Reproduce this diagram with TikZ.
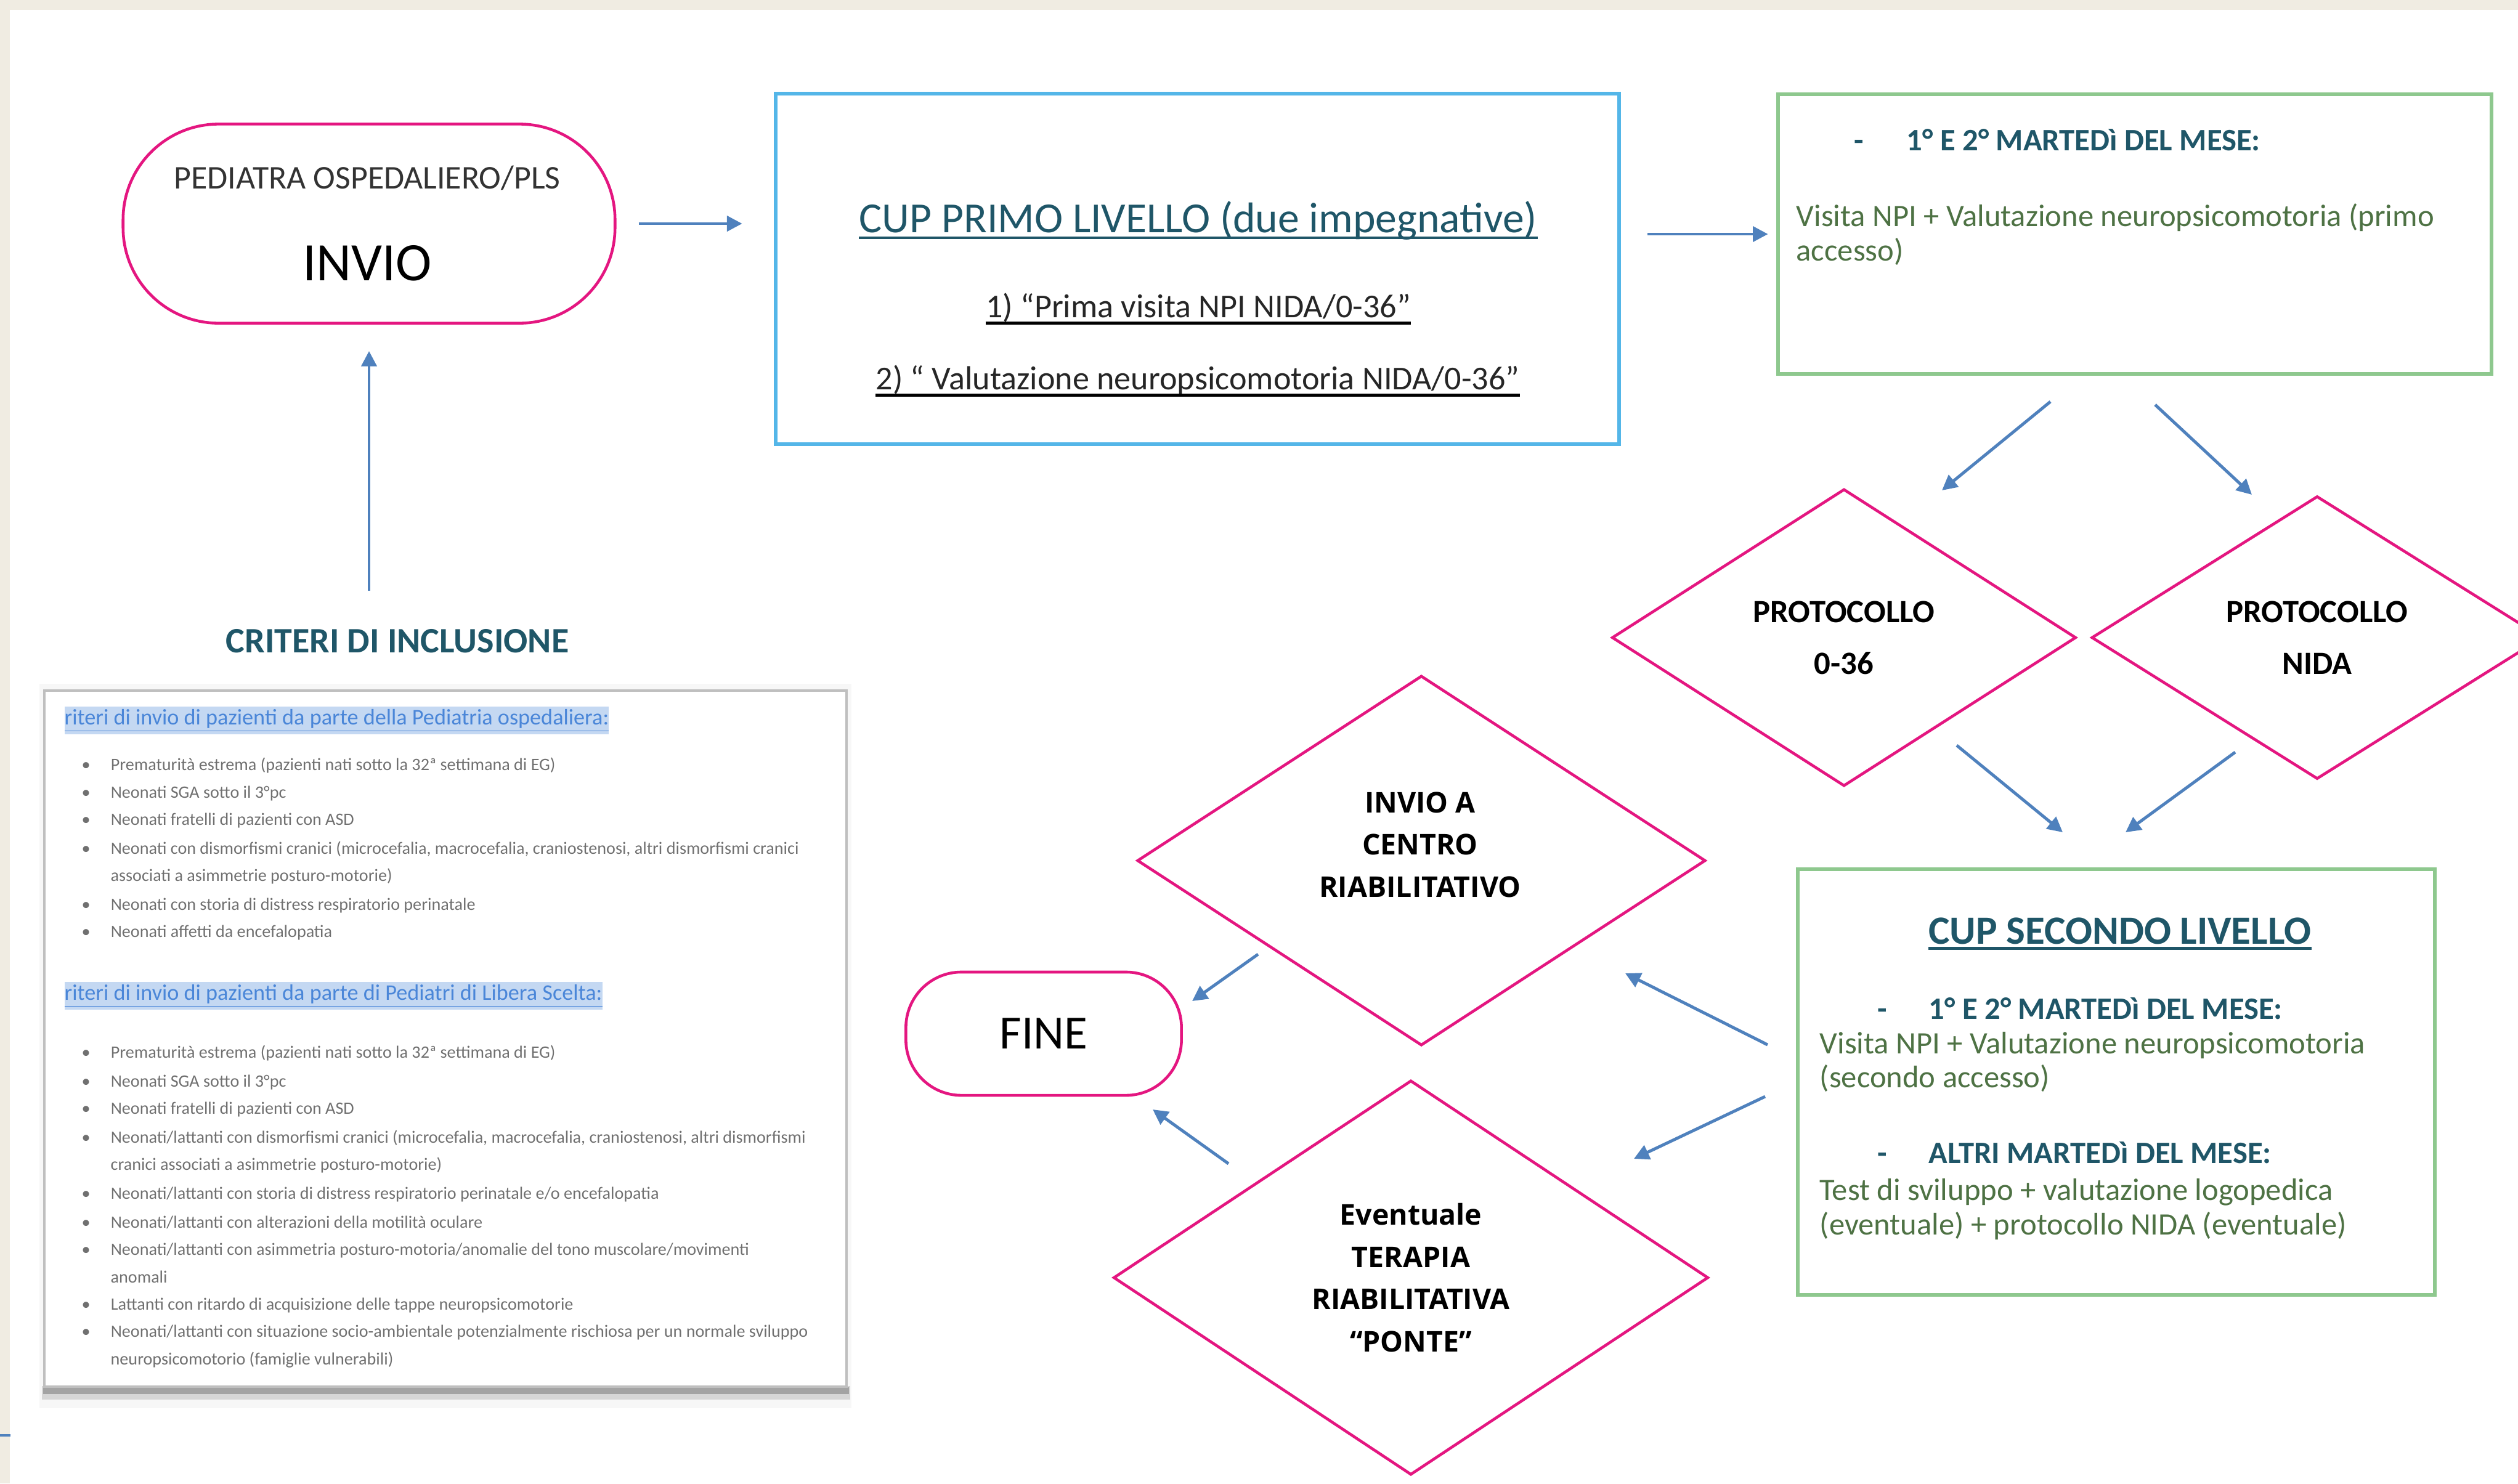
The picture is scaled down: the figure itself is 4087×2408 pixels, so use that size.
\documentclass[tikz,border=0pt]{standalone}
\usepackage{fontspec}
\setmainfont{Carlito}
\newfontfamily\diafont{Open Sans}
\usetikzlibrary{shapes.geometric}
\usetikzlibrary{arrows.meta}

\definecolor{pagebeige}{RGB}{240,236,226}
\definecolor{npipink}{RGB}{228,22,128}
\definecolor{arrowblue}{RGB}{79,129,189}
\definecolor{cupblue}{RGB}{84,182,232}
\definecolor{boxgreen}{RGB}{142,200,142}
\definecolor{headteal}{RGB}{31,86,104}
\definecolor{bodygreen}{RGB}{78,114,68}
\definecolor{linkblue}{RGB}{74,134,216}
\definecolor{markblue}{RGB}{196,216,242}
\definecolor{critgray}{RGB}{112,112,112}

\newcommand{\critem}{\makebox[13.4pt][l]{\textbullet}}

\begin{document}
\begin{tikzpicture}[x=0.01cm, y=-0.01cm,
  every node/.style={inner sep=0pt},
  endcap/.style={draw=npipink, line width=1.3pt, rounded corners=#1},
  dia/.style={shape=diamond, draw=npipink, line width=1.3pt, aspect=1.5},
  protext/.style={align=center, font=\fontsize{15}{23.9}\selectfont\bfseries},
  diatext/.style={align=center, font=\diafont\bfseries\fontsize{13.2}{19.5}\selectfont},
  cupbox/.style={draw=cupblue, line width=1.7pt},
  greenbox/.style={draw=boxgreen, line width=1.7pt},
  flow/.style={draw=arrowblue, line width=1.4pt, -{Triangle[length=7pt,width=7pt]}},
  head/.style={anchor=base west, text=headteal, font=\fontsize{14.4}{17}\selectfont\bfseries},
  body/.style={anchor=base west, text=bodygreen, font=\fontsize{14.4}{17}\selectfont},
  crit/.style={anchor=base west, text=critgray, font=\fontsize{8}{10}\selectfont},
  crithead/.style={anchor=base west, text=linkblue, fill=markblue, inner ysep=1pt, font=\fontsize{10.3}{12}\selectfont}]
\useasboundingbox (0,0) rectangle (4087,2408);
\fill[white] (0,0) rectangle (4087,2408);
\fill[pagebeige] (0,0) rectangle (4087,16);
\fill[pagebeige] (0,0) rectangle (16,2408);
\draw[arrowblue, line width=1pt] (0,2330) -- (17,2330);

% start: pediatra
\node[endcap=1.55cm, minimum width=7.98cm, minimum height=3.23cm] (ped) at (599,363) {};
\node[anchor=base, text=black!80, font=\fontsize{15.3}{18}\selectfont] (ped-who) at (596,306) {PEDIATRA OSPEDALIERO/PLS};
\node[anchor=base, font=\fontsize{25}{30}\selectfont] (ped-invio) at (596,455) {INVIO};

% cup primo livello
\node[cupbox, minimum width=13.69cm, minimum height=5.69cm] (cup1) at (1943.5,436.5) {};
\node[anchor=base, text=headteal, font=\fontsize{19.8}{23}\selectfont] (cup1-title) at (1945,377) {CUP PRIMO LIVELLO (due impegnative)};
\draw[headteal, line width=1.2pt] ([yshift=-2.6pt]cup1-title.base west) -- ([yshift=-2.6pt]cup1-title.base east);
\node[anchor=base, text=black!85, font=\fontsize{15.4}{18}\selectfont] (cup1-first) at (1945,515) {1) “Prima visita NPI NIDA/0-36”};
\draw[black, line width=1.4pt] ([yshift=-2.8pt]cup1-first.base west) -- ([yshift=-2.8pt]cup1-first.base east);
\node[anchor=base, text=black!85, font=\fontsize{15.4}{18}\selectfont] (cup1-second) at (1944,632) {2) “ Valutazione neuropsicomotoria NIDA/0-36”};
\draw[black, line width=1.4pt] ([yshift=-2.8pt]cup1-second.base west) -- ([yshift=-2.8pt]cup1-second.base east);

% first visit
\node[greenbox, minimum width=11.58cm, minimum height=4.54cm] (visit1) at (3465,380) {};
\node[head] (visit1-dash) at (3009,244) {-};
\node[head] (visit1-day) at (3094,244) {1° E 2° MARTEDì DEL MESE:};
\node[body] (visit1-l1) at (2915,367) {Visita NPI + Valutazione neuropsicomotoria (primo};
\node[body] (visit1-l2) at (2915,423) {accesso)};

% protocols
\node[dia, protext, minimum width=7.53cm, minimum height=4.82cm] (p036) at (2993,1035) {PROTOCOLLO\\0-36};
\node[dia, protext, minimum width=7.32cm, minimum height=4.59cm] (pnida) at (3761,1035) {PROTOCOLLO\\NIDA};

% cup secondo livello
\node[greenbox, minimum width=10.34cm, minimum height=6.91cm] (cup2) at (3435,1756.5) {};
\node[anchor=base, text=headteal, font=\fontsize{18.5}{22}\selectfont\bfseries] (cup2-title) at (3441,1532) {CUP SECONDO LIVELLO};
\draw[headteal, line width=1.5pt] ([yshift=-2.2pt]cup2-title.base west) -- ([yshift=-2.2pt]cup2-title.base east);
\node[head] (cup2-dash1) at (3047,1654) {-};
\node[head] (cup2-day1) at (3130,1654) {1° E 2° MARTEDì DEL MESE:};
\node[body] (cup2-l1) at (2953,1710) {Visita NPI + Valutazione neuropsicomotoria};
\node[body] (cup2-l2) at (2953,1765) {(secondo accesso)};
\node[head] (cup2-dash2) at (3047,1888) {-};
\node[head] (cup2-day2) at (3130,1888) {ALTRI MARTEDì DEL MESE:};
\node[body] (cup2-l3) at (2953,1948) {Test di sviluppo + valutazione logopedica};
\node[body] (cup2-l4) at (2953,2004) {(eventuale) + protocollo NIDA (eventuale)};

% outcomes
\node[dia, minimum width=9.22cm, minimum height=6.0cm] (rehab) at (2307,1397) {};
\node[diatext] (rehab-txt) at (2305,1371) {INVIO A\\CENTRO\\RIABILITATIVO};
\node[dia, diatext, minimum width=9.65cm, minimum height=6.4cm] (bridge) at (2290,2074) {Eventuale\\TERAPIA\\RIABILITATIVA\\“PONTE”};
\node[endcap=0.9cm, minimum width=4.47cm, minimum height=2.0cm, font=\fontsize{22}{26}\selectfont] (fine) at (1694,1678) {FINE};

% inclusion criteria
\node[text=headteal, font=\fontsize{16.5}{20}\selectfont\bfseries] (crit) at (645,1041) {CRITERI DI INCLUSIONE};
\fill[black!3] (64,1110) rectangle (1382,2286);
\fill[black!16] (68,2250) rectangle (1380,2272);
\fill[black!36] (70,2252) rectangle (1378,2263);
\draw[black!25, line width=1.4pt, fill=white] (72,1121) rectangle (1374,2251);
\node[crithead] (crit-h1) at (104,1176) {\underline{riteri di invio di pazienti da parte della Pediatria ospedaliera:}};
\node[crit] (crit-a1) at (132,1250) {\critem Prematurità estrema (pazienti nati sotto la 32ª settimana di EG)};
\node[crit] (crit-a2) at (132,1295) {\critem Neonati SGA sotto il 3°pc};
\node[crit] (crit-a3) at (132,1339) {\critem Neonati fratelli di pazienti con ASD};
\node[crit] (crit-a4) at (132,1386) {\critem Neonati con dismorfismi cranici (microcefalia, macrocefalia, craniostenosi, altri dismorfismi cranici};
\node[crit] (crit-a4b) at (179,1430) {associati a asimmetrie posturo-motorie)};
\node[crit] (crit-a5) at (132,1477) {\critem Neonati con storia di distress respiratorio perinatale};
\node[crit] (crit-a6) at (132,1521) {\critem Neonati affetti da encefalopatia};
\node[crithead] (crit-h2) at (104,1623) {\underline{riteri di invio di pazienti da parte di Pediatri di Libera Scelta:}};
\node[crit] (crit-b1) at (132,1717) {\critem Prematurità estrema (pazienti nati sotto la 32ª settimana di EG)};
\node[crit] (crit-b2) at (132,1764) {\critem Neonati SGA sotto il 3°pc};
\node[crit] (crit-b3) at (132,1808) {\critem Neonati fratelli di pazienti con ASD};
\node[crit] (crit-b4) at (132,1855) {\critem Neonati/lattanti con dismorfismi cranici (microcefalia, macrocefalia, craniostenosi, altri dismorfismi};
\node[crit] (crit-b4b) at (179,1899) {cranici associati a asimmetrie posturo-motorie)};
\node[crit] (crit-b5) at (132,1946) {\critem Neonati/lattanti con storia di distress respiratorio perinatale e/o encefalopatia};
\node[crit] (crit-b6) at (132,1993) {\critem Neonati/lattanti con alterazioni della motilità oculare};
\node[crit] (crit-b7) at (132,2037) {\critem Neonati/lattanti con asimmetria posturo-motoria/anomalie del tono muscolare/movimenti};
\node[crit] (crit-b7b) at (179,2082) {anomali};
\node[crit] (crit-b8) at (132,2126) {\critem Lattanti con ritardo di acquisizione delle tappe neuropsicomotorie};
\node[crit] (crit-b9) at (132,2170) {\critem Neonati/lattanti con situazione socio-ambientale potenzialmente rischiosa per un normale sviluppo};
\node[crit] (crit-b9b) at (179,2215) {neuropsicomotorio (famiglie vulnerabili)};

% free arrow ends
\coordinate (visit1-sw) at (3328,652);
\coordinate (p036-top) at (3152,796);
\coordinate (visit1-se) at (3498,657);
\coordinate (pnida-top) at (3655,803);
\coordinate (p036-out) at (3176,1210);
\coordinate (cup2-inl) at (3348,1351);
\coordinate (pnida-out) at (3628,1221);
\coordinate (cup2-inr) at (3450,1351);
\coordinate (cup2-outu) at (2869,1696);
\coordinate (rehab-in) at (2638,1580);
\coordinate (cup2-outd) at (2865,1780);
\coordinate (bridge-in) at (2652,1881);
\coordinate (rehab-out) at (2042,1549);
\coordinate (fine-inu) at (1935,1625);
\coordinate (bridge-out) at (1994,1889);
\coordinate (fine-ind) at (1871,1801);

% arrows
\draw[flow, shorten <=0.62cm, shorten >=0.43cm] (crit.north -| ped.south) -- (ped.south);
\draw[flow, shorten <=0.36cm, shorten >=0.51cm] (ped.east) -- (ped.east -| cup1.west);
\draw[flow, shorten <=0.43cm, shorten >=0.13cm] (visit1.west -| cup1.east) -- (visit1.west);
\draw[flow] (visit1-sw) -- (p036-top);
\draw[flow] (visit1-se) -- (pnida-top);
\draw[flow] (p036-out) -- (cup2-inl);
\draw[flow] (pnida-out) -- (cup2-inr);
\draw[flow] (cup2-outu) -- (rehab-in);
\draw[flow] (cup2-outd) -- (bridge-in);
\draw[flow] (rehab-out) -- (fine-inu);
\draw[flow] (bridge-out) -- (fine-ind);
\end{tikzpicture}
\end{document}
